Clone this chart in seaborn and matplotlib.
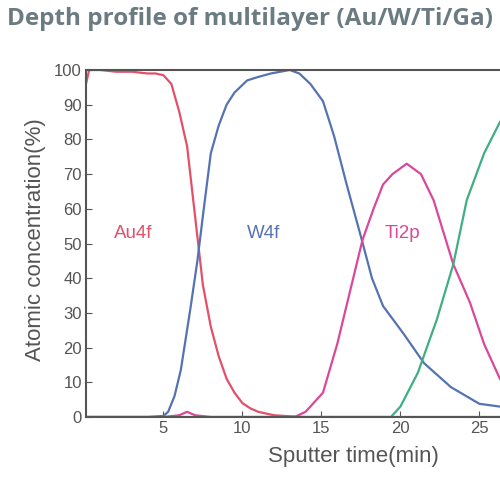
import numpy as np
import pandas as pd
import matplotlib
matplotlib.use("Agg")
import matplotlib.pyplot as plt
import seaborn as sns

# ---- data ----
au_t = [0.1, 0.3, 1, 2, 3, 4, 4.5, 5, 5.5, 6, 6.5, 7, 7.5, 8, 8.5, 9, 9.5, 10, 10.5, 11, 12, 13, 14, 20, 30]
au_c = [96, 100, 100, 99.5, 99.5, 99, 99, 98.5, 96, 88, 78, 58, 38, 26, 17.5, 11, 7, 4, 2.5, 1.5, 0.5, 0.2, 0, 0, 0]

w_t = [0.1, 2, 4, 5, 5.3, 5.7, 6.1, 6.7, 7.15, 7.5, 8, 8.5, 9, 9.5, 10.3, 11, 11.8, 13, 13.6, 14.3, 15.1, 15.8, 16.6, 17.5, 18.2, 18.9, 20.2, 21.5, 23.2, 25, 26.3, 28, 30]
w_c = [0, 0, 0, 0.3, 1.5, 6, 13.5, 31, 45, 58, 76, 84, 90, 93.5, 97, 98, 99, 100, 99, 96, 91, 81, 67, 52, 40, 32, 24, 15.5, 8.6, 3.8, 3, 2, 1.5]

ti_t = [0.1, 5, 6, 6.5, 7, 8, 12, 13.3, 14, 15.1, 16, 16.8, 17.6, 18.3, 18.9, 19.5, 20.4, 21.3, 22.1, 23.35, 24.4, 25.3, 26.3, 27, 28, 30]
ti_c = [0, 0, 0.5, 1.5, 0.5, 0, 0, 0, 1.5, 7, 21, 36, 51, 60, 67, 70, 73, 70, 62.5, 44, 33, 21, 11, 7, 4, 2]

ga_t = [0.1, 10, 15, 19.4, 20, 21.1, 22.3, 23.35, 24.2, 25.3, 26.3, 27, 28, 30]
ga_c = [0, 0, 0, 0, 3, 12.7, 28, 44, 62.5, 76, 85, 89, 92, 94]

series = ["Au4f", "W4f", "Ti2p", "Ga"]
colors = {"Au4f": "#e2506a", "W4f": "#5573b2", "Ti2p": "#d9489a", "Ga": "#3fae82"}
x_ticks = [5, 10, 15, 20, 25]
y_ticks = list(range(0, 101, 10))

frames = []
for name, t, c in [("Au4f", au_t, au_c), ("W4f", w_t, w_c), ("Ti2p", ti_t, ti_c), ("Ga", ga_t, ga_c)]:
    frames.append(pd.DataFrame({"time": t, "conc": c, "element": name}))
df = pd.concat(frames, ignore_index=True)

sns.set_theme(style="white")
plt.rcParams["font.family"] = ["Liberation Sans", "DejaVu Sans"]

fig = plt.figure(figsize=(5, 5), dpi=100)
ax = fig.add_axes([0.172, 0.166, 1.068, 0.694])

sns.lineplot(data=df, x="time", y="conc", hue="element", palette=colors,
             hue_order=series, legend=False, linewidth=1.6, ax=ax, sort=False)

ax.set_xlim(0.1, 33.9)
ax.set_ylim(0, 100)
ax.set_xticks(x_ticks)
ax.set_yticks(y_ticks)
ax.tick_params(direction="in", length=4, width=0.8, colors="#555555",
               labelsize=12, labelcolor="#555555", pad=3,
               bottom=True, left=True)
for s in ax.spines.values():
    s.set_color("#555555")
    s.set_linewidth(1.5)

ax.set_xlabel("Sputter time(min)", fontsize=16, color="#555555")
ax.set_ylabel("Atomic concentration(%)", fontsize=16, color="#555555")
ax.xaxis.set_label_coords(0.5, -0.085)
ax.yaxis.set_label_coords(-0.075, 0.51)

ax.text(3.1, 53, "Au4f", color=colors["Au4f"], fontsize=13.5, ha="center", va="center")
ax.text(11.35, 53, "W4f", color=colors["W4f"], fontsize=13.5, ha="center", va="center")
ax.text(20.1, 53, "Ti2p", color=colors["Ti2p"], fontsize=13.5, ha="center", va="center")

fig.text(0.5, 0.962, "Depth profile of multilayer (Au/W/Ti/Ga)", ha="center", va="center",
         fontsize=17.5, fontweight="bold", color="#6b7b82", family=["Open Sans", "DejaVu Sans"])

fig.savefig("out.png", dpi=100)
